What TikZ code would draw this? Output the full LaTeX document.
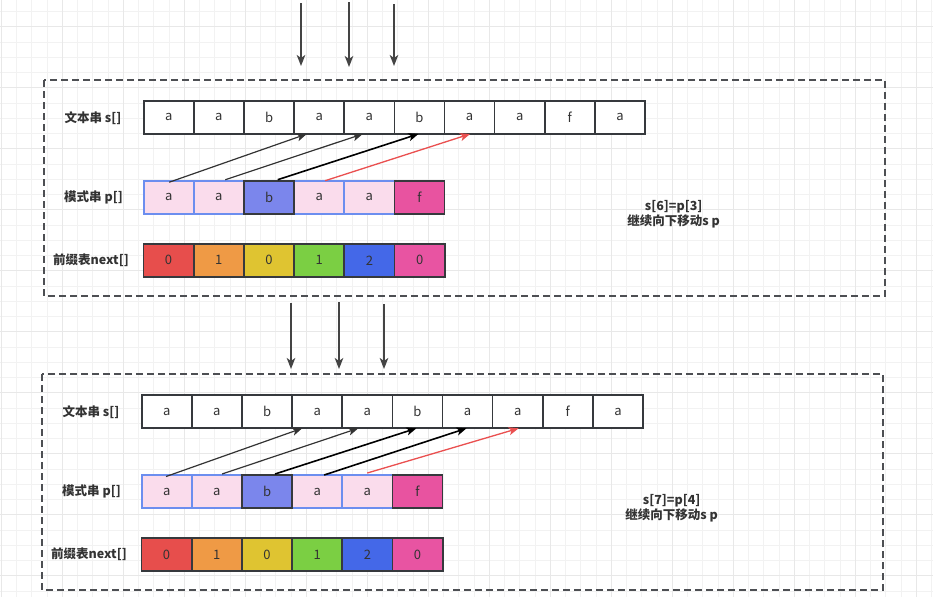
\documentclass[tikz,border=0pt]{standalone}
\usepackage{fontspec}
\setmainfont{Noto Sans CJK SC}
\usetikzlibrary{arrows.meta,calc}
\definecolor{gridminor}{HTML}{F2F2F2}
\definecolor{gridmajor}{HTML}{E8E8E8}
\definecolor{cellborder}{HTML}{36393D}
\definecolor{textc}{HTML}{333333}
\definecolor{boxc}{HTML}{4D4F53}
\definecolor{pinkfill}{HTML}{FADCEC}
\definecolor{pinkborder}{HTML}{6C8EEF}
\definecolor{bfill}{HTML}{7B86EC}
\definecolor{ffill}{HTML}{E853A0}
\definecolor{nxa}{HTML}{E74E4C}
\definecolor{nxb}{HTML}{EF9A45}
\definecolor{nxc}{HTML}{DFC431}
\definecolor{nxd}{HTML}{7BCF43}
\definecolor{nxe}{HTML}{4468E8}
\definecolor{nxf}{HTML}{E854A2}
\definecolor{arrgray}{HTML}{333333}
\definecolor{arrred}{HTML}{EA5050}
\definecolor{toparr}{HTML}{444444}
\newcommand\kmppanel[3]{%
  \draw[panelbox] (44,80) rectangle (885,296);
  \node[lbl] (#1-ls) at (93,118) {文本串 s[]};
  \node[lbl] (#1-lp) at (93.5,197.5) {模式串 p[]};
  \node[lbl] (#1-ln) at (91,260) {前缀表next[]};
  \foreach \c [count=\i from 0] in {a,a,b,a,a,b,a,a,f,a}
    \node[cell] (#1-s\i) at ({143.7+50.13*(\i+0.5)},117.35) {\c};
  \foreach \c/\i in {a/0,a/1,a/3,a/4}
    \node[cell,pcellA] (#1-p\i) at ({143.7+50.13*(\i+0.5)},197.35) {\c};
  \node[cell,pcellB] (#1-p2) at ({143.7+50.13*2.5},197.35) {b};
  \node[cell,pcellF] (#1-p5) at ({143.7+50.13*5.5},197.35) {f};
  \foreach \c/\col [count=\i from 0] in {0/nxa,1/nxb,0/nxc,1/nxd,2/nxe,0/nxf}
    \node[cell,fill=\col] (#1-n\i) at ({143.5+50.2*(\i+0.5)},260.35) {\c};
  \node[note] (#1-note) at (673.7,214) {#2\\#3};
}
\begin{document}
\begin{tikzpicture}[x=1pt,y=-1pt,
  gmin/.style={draw=gridminor,line width=0.9pt},
  gmaj/.style={draw=gridmajor,line width=1.1pt},
  panelbox/.style={draw=boxc,line width=1.9pt,dash pattern=on 7pt off 4pt},
  lbl/.style={font=\bfseries\fontsize{12.5}{14}\selectfont,text=textc,inner sep=0},
  note/.style={font=\bfseries\fontsize{12.5}{15.5}\selectfont,text=textc,align=center,inner sep=0},
  cell/.style={draw=cellborder,line width=1.7pt,minimum width=50.13pt,minimum height=33.3pt,
    inner sep=0,outer sep=0,font=\fontsize{13}{14}\selectfont,text=textc,fill=white},
  pcellA/.style={fill=pinkfill,draw=pinkborder},
  pcellB/.style={fill=bfill},
  pcellF/.style={fill=ffill},
  tip/.style={-{Stealth[length=10pt,width=8pt,inset=2.5pt]}},
  graylink/.style={tip,draw=arrgray,line width=1.2pt},
  blacklink/.style={tip,draw=black,line width=1.6pt},
  redlink/.style={tip,draw=arrred,fill=arrred,line width=1.3pt},
  toplink/.style={-{Stealth[length=11pt,width=8.5pt,inset=3pt]},draw=toparr,line width=1.8pt}]
\useasboundingbox (0,0) rectangle (933,597);
\fill[white] (0,0) rectangle (933,597);
% background grid
\foreach \k in {0,...,61} \draw[gmin] ({1.3+15.25*\k},0) -- ++(0,597);
\foreach \k in {0,...,40} \draw[gmin] (0,{-3.8+15.25*\k}) -- ++(933,0);
\foreach \k in {0,...,15} \draw[gmaj] ({1.3+61*\k},0) -- ++(0,597);
\foreach \k in {0,...,9} \draw[gmaj] (0,{26.7+61*\k}) -- ++(933,0);
% panel 1
\kmppanel{A}{s[6]=p[3]}{继续向下移动s p}
% panel 2
\begin{scope}[shift={(-2,294.3)}]
\kmppanel{B}{s[7]=p[4]}{继续向下移动s p}
\end{scope}
% top arrows panel 1
\coordinate (a1s) at (301,3);   \coordinate (a1e) at (301,66);
\coordinate (a2s) at (349,2);   \coordinate (a2e) at (349,67);
\coordinate (a3s) at (394,4);   \coordinate (a3e) at (394,66);
\draw[toplink] (a1s) -- (a1e);
\draw[toplink] (a2s) -- (a2e);
\draw[toplink] (a3s) -- (a3e);
% top arrows panel 2
\coordinate (b1s) at (291,303); \coordinate (b1e) at (291,369);
\coordinate (b2s) at (339,302); \coordinate (b2e) at (339,369);
\coordinate (b3s) at (384,304); \coordinate (b3e) at (384,369);
\draw[toplink] (b1s) -- (b1e);
\draw[toplink] (b2s) -- (b2e);
\draw[toplink] (b3s) -- (b3e);
% match arrows panel 1
\draw[graylink] ([xshift=0.5pt,yshift=-1.5pt]A-p0.north) -- ([xshift=-12.4pt]A-s3.south);
\draw[graylink] ([xshift=6.4pt,yshift=1pt]A-p1.north) -- ([xshift=-6.6pt]A-s4.south);
\draw[blacklink] ([xshift=8.7pt,yshift=1pt]A-p2.north) -- ([xshift=-1pt]A-s5.south);
\draw[redlink] ([xshift=6pt]A-p3.north) -- ([xshift=0.5pt]A-s6.south);
% match arrows panel 2
\draw[graylink] ([xshift=-0.7pt,yshift=-1.5pt]B-p0.north) -- ([xshift=-15pt]B-s3.south);
\draw[graylink] ([xshift=5.2pt,yshift=1pt]B-p1.north) -- ([xshift=-9pt]B-s4.south);
\draw[blacklink] ([xshift=8pt,yshift=1pt]B-p2.north) -- ([xshift=-1pt]B-s5.south);
\draw[blacklink] ([xshift=7pt]B-p3.north) -- ([xshift=-1pt]B-s6.south);
\draw[redlink] ([xshift=0pt,yshift=2pt]B-p4.north) -- ([xshift=1pt]B-s7.south);
\end{tikzpicture}
\end{document}
